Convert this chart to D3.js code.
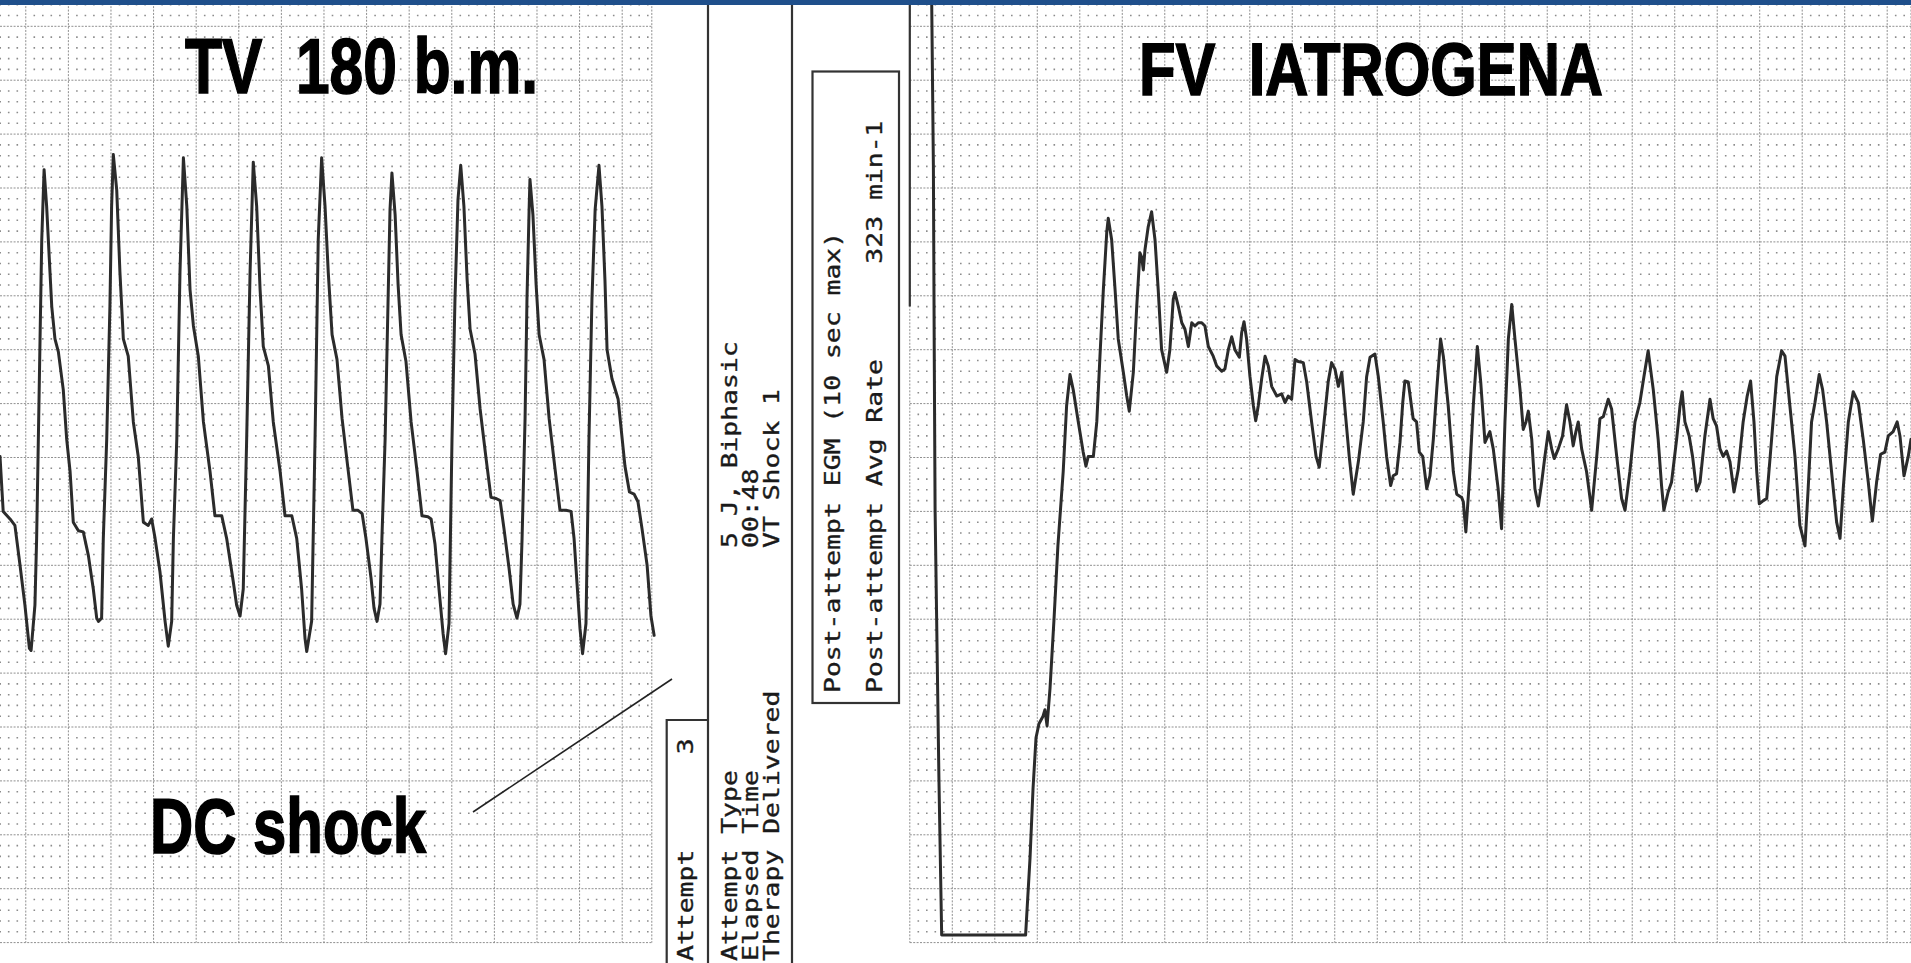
<!DOCTYPE html>
<html>
<head>
<meta charset="utf-8">
<script src="https://cdn.jsdelivr.net/npm/d3@7"></script>
<style>
  html, body { margin: 0; padding: 0; background: #fff; overflow: hidden; }
  svg { display: block; }
  .title { font-family: 'Liberation Sans', Arial, sans-serif; font-weight: bold; fill: #000; stroke: #000; stroke-width: 1.6; white-space: pre; }
  .mono { font-family: 'DejaVu Sans Mono', monospace; font-size: 21px; fill: #1a1a1a; stroke: #1a1a1a; stroke-width: 0.35; white-space: pre; }
</style>
</head>
<body>
<svg id="chart" width="1911" height="963"></svg>
<script>
// ECG strips, [time in ms from strip start, amplitude in mV]
const leftTrace = [
  [0, 0.01], [15, -0.5], [47, -0.57], [70, -0.63], [94, -1.0], [117, -1.37], [138, -1.77], [146, -1.79],
  [164, -1.37], [172, -0.75], [180, 0.17], [188, 1.1], [196, 2.02], [207, 2.67],
  [219, 2.33], [231, 1.86], [243, 1.4], [258, 1.1], [274, 0.98], [297, 0.63], [313, 0.17], [329, -0.13],
  [344, -0.6], [368, -0.68], [391, -0.69], [415, -0.91], [438, -1.22], [454, -1.49], [462, -1.52],
  [477, -1.49], [485, -0.75], [501, 0.17], [516, 1.4], [524, 2.33], [532, 2.81],
  [548, 2.48], [563, 1.72], [579, 1.1], [602, 0.94], [626, 0.33], [649, 0.01], [673, -0.6], [696, -0.63],
  [712, -0.57], [728, -0.75], [751, -1.06], [775, -1.52], [790, -1.75],
  [806, -1.52], [814, -0.75], [830, 0.17], [845, 1.72], [861, 2.78],
  [877, 2.33], [892, 1.56], [908, 1.22], [931, 0.94], [955, 0.33], [986, -0.13], [1009, -0.54], [1041, -0.54],
  [1064, -0.75], [1095, -1.15], [1111, -1.37], [1127, -1.47],
  [1142, -1.22], [1158, 0.17], [1174, 1.72], [1189, 2.74],
  [1205, 2.33], [1221, 1.56], [1236, 1.03], [1260, 0.85], [1283, 0.33], [1315, -0.13], [1338, -0.54], [1370, -0.54],
  [1393, -0.75], [1416, -1.22], [1432, -1.68], [1440, -1.8],
  [1463, -1.52], [1479, 0.17], [1494, 2.02], [1510, 2.78],
  [1526, 2.33], [1541, 1.72], [1559, 1.14], [1582, 0.91], [1606, 0.36], [1634, -0.11], [1657, -0.49], [1681, -0.49],
  [1700, -0.52], [1718, -0.75], [1742, -1.12], [1756, -1.4], [1770, -1.52],
  [1784, -1.36], [1793, -0.75], [1808, 0.17], [1822, 1.47], [1831, 2.3], [1840, 2.64],
  [1855, 2.25], [1869, 1.6], [1883, 1.14], [1906, 0.89], [1930, 0.33], [1958, -0.13], [1981, -0.54], [2009, -0.55],
  [2024, -0.57], [2042, -0.8], [2061, -1.22], [2080, -1.63], [2092, -1.82],
  [2108, -1.54], [2122, 0.17], [2136, 1.47], [2150, 2.39], [2163, 2.71],
  [2178, 2.33], [2193, 1.65], [2207, 1.19], [2230, 0.96], [2254, 0.45], [2282, -0.01], [2305, -0.37], [2329, -0.38],
  [2348, -0.4], [2366, -0.66], [2390, -1.03], [2409, -1.36], [2427, -1.49],
  [2441, -1.36], [2451, -0.75], [2465, 0.36], [2474, 1.47], [2484, 2.3], [2488, 2.58],
  [2502, 2.25], [2517, 1.6], [2531, 1.14], [2554, 0.91], [2578, 0.36], [2606, -0.11], [2629, -0.49], [2657, -0.49],
  [2681, -0.5], [2695, -0.75], [2709, -1.17], [2723, -1.59], [2735, -1.82],
  [2751, -1.54], [2765, 0.17], [2779, 1.47], [2794, 2.3], [2812, 2.71],
  [2826, 2.33], [2840, 1.65], [2850, 1.0], [2873, 0.73], [2902, 0.54], [2934, -0.08], [2955, -0.32], [2977, -0.34],
  [2995, -0.41], [3014, -0.66], [3038, -1.0], [3056, -1.47], [3071, -1.65],
];

const rightTrace = [
  [103, 4.24], [111, 2.71], [115, 1.0], [119, -0.48], [137, -2.97], [150, -4.43], [545, -4.43],
  [566, -3.71], [580, -3.07], [594, -2.6], [608, -2.47], [627, -2.4], [636, -2.34], [646, -2.49], [660, -2.14],
  [679, -1.49], [697, -0.82], [722, -0.13], [738, 0.48], [754, 0.77],
  [769, 0.63], [793, 0.33], [816, 0.05], [829, -0.08], [840, 0.01], [864, 0.01], [880, 0.33], [895, 0.94],
  [911, 1.56], [927, 2.09], [934, 2.22], [950, 2.02], [966, 1.56], [981, 1.1], [1005, 0.79], [1021, 0.57],
  [1033, 0.43], [1052, 0.79], [1068, 1.4], [1083, 1.9], [1091, 1.86], [1099, 1.74], [1107, 1.93], [1122, 2.14],
  [1138, 2.28], [1154, 2.02], [1169, 1.56], [1185, 1.0], [1209, 0.79], [1224, 1.0], [1240, 1.47], [1248, 1.53],
  [1264, 1.4], [1280, 1.25], [1295, 1.19], [1311, 1.03], [1327, 1.25], [1342, 1.22], [1358, 1.25], [1374, 1.25],
  [1389, 1.22], [1405, 1.03], [1428, 0.94], [1444, 0.85], [1468, 0.8], [1483, 0.82], [1499, 1.0], [1515, 1.12],
  [1530, 1.0], [1551, 0.93], [1562, 1.16], [1573, 1.26], [1585, 1.1], [1601, 0.75], [1617, 0.48], [1628, 0.34],
  [1640, 0.48], [1656, 0.73], [1672, 0.94], [1687, 0.85], [1703, 0.66], [1727, 0.57], [1750, 0.59], [1766, 0.51],
  [1781, 0.57], [1797, 0.54], [1813, 0.91], [1828, 0.89], [1852, 0.88], [1868, 0.7], [1891, 0.33], [1912, 0.01],
  [1927, -0.09], [1946, 0.26], [1969, 0.7], [1985, 0.88], [2001, 0.82], [2017, 0.66], [2033, 0.79], [2048, 0.45],
  [2068, 0.01], [2087, -0.34], [2111, -0.04], [2134, 0.33], [2150, 0.75], [2166, 0.93], [2189, 0.96], [2205, 0.75],
  [2228, 0.33], [2244, 0.01], [2263, -0.26], [2275, -0.17], [2291, -0.15], [2307, 0.14], [2320, 0.51], [2330, 0.71],
  [2346, 0.7], [2369, 0.36], [2385, 0.33], [2398, 0.05], [2414, 0.01], [2433, -0.29], [2448, -0.17], [2464, 0.17],
  [2480, 0.63], [2498, 1.1], [2511, 0.94], [2534, 0.48], [2558, -0.13], [2574, -0.34], [2597, -0.37], [2605, -0.41],
  [2617, -0.69], [2633, -0.23], [2652, 0.48], [2671, 1.03], [2687, 0.7], [2707, 0.14], [2730, 0.24], [2746, 0.08],
  [2769, -0.29], [2785, -0.66], [2801, 0.33], [2817, 1.1], [2833, 1.42], [2848, 1.1], [2872, 0.63], [2887, 0.26],
  [2900, 0.33], [2911, 0.43], [2927, 0.17], [2942, -0.29], [2958, -0.45], [2974, -0.23], [2989, 0.01], [3005, 0.24],
  [3021, 0.08], [3033, -0.01], [3052, 0.08], [3072, 0.2], [3091, 0.49], [3107, 0.33], [3122, 0.11], [3135, 0.24],
  [3146, 0.33], [3162, 0.08], [3185, -0.13], [3209, -0.49], [3233, 0.01], [3248, 0.36], [3264, 0.38], [3287, 0.54],
  [3303, 0.45], [3327, 0.01], [3350, -0.38], [3366, -0.49], [3389, -0.13], [3413, 0.33], [3436, 0.51], [3455, 0.75],
  [3475, 0.99], [3499, 0.63], [3522, 0.17], [3538, -0.26], [3549, -0.49], [3569, -0.32], [3585, -0.23], [3609, 0.17],
  [3625, 0.48], [3635, 0.61], [3648, 0.33], [3668, 0.2], [3684, 0.01], [3703, -0.31], [3719, -0.23], [3742, 0.2],
  [3766, 0.54], [3781, 0.36], [3797, 0.29], [3813, 0.08], [3828, 0.01], [3844, 0.06], [3860, -0.04], [3879, -0.32],
  [3899, -0.11], [3922, 0.33], [3941, 0.57], [3957, 0.71], [3973, 0.33], [3986, -0.13], [3998, -0.43], [4017, -0.4],
  [4033, -0.38], [4056, 0.17], [4080, 0.75], [4103, 0.99], [4119, 0.94], [4142, 0.48], [4166, 0.01], [4189, -0.63],
  [4213, -0.82], [4228, -0.29], [4244, 0.33], [4260, 0.51], [4280, 0.77], [4296, 0.63], [4315, 0.33], [4338, -0.13],
  [4362, -0.6], [4378, -0.75], [4393, -0.29], [4417, 0.33], [4440, 0.61], [4464, 0.51], [4487, 0.17], [4511, -0.23],
  [4530, -0.59], [4550, -0.23], [4569, 0.03], [4589, 0.05], [4605, 0.2], [4628, 0.24], [4647, 0.33], [4660, 0.2],
  [4679, -0.17], [4699, 0.01], [4712, 0.17],
];

const leftTitle = 'TV  180 b.m.';
const rightTitle = 'FV  IATROGENA';
const shockLabel = 'DC shock';
const attemptLabels = ['Attempt      3', 'Attempt Type', 'Elapsed Time', 'Therapy Delivered'];
const attemptValues = ['5 J, Biphasic', '00:48', 'VT Shock 1'];
const postAttemptLabels = ['Post-attempt EGM (10 sec max)', 'Post-attempt Avg Rate      323 min-1'];

const width = 1911;
const height = 963;

// 0.5 mV per big box, 200 ms per big box (paper is stretched vertically)
const yScale = d3.scaleLinear().domain([0, 1]).range([457.5, 349.7]);
const xLeft = d3.scaleLinear().domain([0, 3060]).range([0, 651.8]);
const xRight = d3.scaleLinear().domain([0, 4712]).range([909.8, 1911]);

const svg = d3.select('#chart').attr('viewBox', `0 0 ${width} ${height}`);
svg.append('rect').attr('width', width).attr('height', height).attr('fill', '#fff');

function drawGrid(g, x, msFrom, msTo, offset) {
  const jMin = Math.ceil((msFrom - offset) / 40);
  const jMax = Math.floor((msTo - offset) / 40);
  const iMin = -45;
  const iMax = 42;
  const top = yScale(4.25);
  const bottom = yScale(-4.5);

  let dots = '';
  for (let i = iMin; i <= iMax; i++) {
    if (i % 5 === 0) continue;
    const py = yScale(i / 10);
    for (let j = jMin; j <= jMax; j++) {
      if (j % 5 === 0) continue;
      const px = x(offset + 40 * j);
      dots += `M${(px - 0.8).toFixed(1)},${(py - 0.8).toFixed(1)}h1.6v1.6h-1.6z`;
    }
  }
  g.append('path').attr('d', dots).attr('fill', '#8c8c8c');

  const rows = d3.range(-9, 9).map((k) => k / 2);
  g.selectAll('line.h')
    .data(rows)
    .join('line')
    .attr('class', 'h')
    .attr('x1', x(msFrom))
    .attr('x2', x(msTo))
    .attr('y1', (d) => yScale(d))
    .attr('y2', (d) => yScale(d))
    .attr('stroke', '#8f8f8f')
    .attr('stroke-width', 1)
    .attr('stroke-dasharray', '2,1.4');

  const cols = d3.range(jMin, jMax + 1).filter((j) => j % 5 === 0).map((j) => offset + 40 * j);
  cols.push(msTo);
  g.selectAll('line.v')
    .data(cols)
    .join('line')
    .attr('class', 'v')
    .attr('x1', (d) => x(d))
    .attr('x2', (d) => x(d))
    .attr('y1', top)
    .attr('y2', bottom)
    .attr('stroke', '#8f8f8f')
    .attr('stroke-width', 1)
    .attr('stroke-dasharray', '2,1.4');
}

drawGrid(svg.append('g'), xLeft, 0, 3060, 121);
drawGrid(svg.append('g'), xRight, 0, 4712, 0);

// printout frame in the middle
const frame = svg.append('g')
  .attr('fill', 'none')
  .attr('stroke', '#333')
  .attr('stroke-width', 2.2);
frame.append('line').attr('x1', 708).attr('x2', 708).attr('y1', 0).attr('y2', height);
frame.append('line').attr('x1', 792).attr('x2', 792).attr('y1', 0).attr('y2', height);
frame.append('path').attr('d', `M666.7,${height} V720 H708`);
frame.append('rect').attr('x', 812.5).attr('y', 71.5).attr('width', 86.5).attr('height', 631.5);
frame.append('line')
  .attr('x1', xRight(0)).attr('x2', xRight(0))
  .attr('y1', 0).attr('y2', yScale(1.4));

// traces
function drawTrace(data, x) {
  const line = d3.line()
    .x((d) => x(d[0]))
    .y((d) => yScale(d[1]));
  svg.append('path')
    .datum(data)
    .attr('d', line)
    .attr('fill', 'none')
    .attr('stroke', '#2b2b2b')
    .attr('stroke-width', 3)
    .attr('stroke-linejoin', 'round')
    .attr('stroke-linecap', 'round');
}

drawTrace(leftTrace, xLeft);
drawTrace(rightTrace, xRight);

// big labels
svg.append('text')
  .attr('class', 'title')
  .attr('x', 185).attr('y', 93)
  .attr('font-size', 78)
  .attr('textLength', 353)
  .attr('lengthAdjust', 'spacingAndGlyphs')
  .text(leftTitle);

svg.append('text')
  .attr('class', 'title')
  .attr('x', 1139).attr('y', 95)
  .attr('font-size', 74)
  .attr('textLength', 464)
  .attr('lengthAdjust', 'spacingAndGlyphs')
  .text(rightTitle);

svg.append('text')
  .attr('class', 'title')
  .attr('x', 150).attr('y', 853)
  .attr('font-size', 78)
  .attr('textLength', 276)
  .attr('lengthAdjust', 'spacingAndGlyphs')
  .text(shockLabel);

svg.append('line')
  .attr('x1', 473).attr('y1', 812)
  .attr('x2', 672).attr('y2', 679)
  .attr('stroke', '#222')
  .attr('stroke-width', 1.6);

// rotated printer text
function rotatedText(str, x, y) {
  svg.append('text')
    .attr('class', 'mono')
    .attr('transform', `translate(${x},${y}) rotate(-90) scale(1.258,1)`)
    .text(str);
}

const labelCols = [693, 737, 758, 779];
attemptLabels.forEach((s, i) => rotatedText(s, labelCols[i], 961));
attemptValues.forEach((s, i) => rotatedText(s, labelCols[i + 1], 548));
postAttemptLabels.forEach((s, i) => rotatedText(s, [840, 882][i], 693));

// top band
svg.append('rect')
  .attr('x', 0).attr('y', 0)
  .attr('width', width).attr('height', 5)
  .attr('fill', '#1f4f8b');
</script>
</body>
</html>
